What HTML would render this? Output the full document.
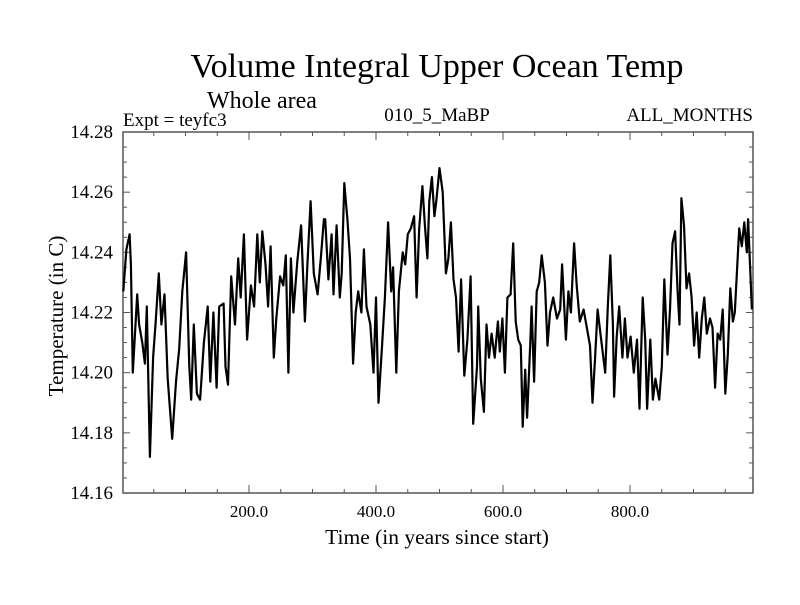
<!DOCTYPE html>
<html><head><meta charset="utf-8"><style>
body{margin:0;background:#fff}
svg text{font-family:"Liberation Serif",serif;fill:#000}
</style></head><body>
<svg id="chart" width="800" height="600" viewBox="0 0 800 600">
<text x="437" y="77" font-size="34" text-anchor="middle">Volume Integral Upper Ocean Temp</text>
<text x="207" y="108" font-size="24">Whole area</text>
<text x="123" y="126" font-size="19">Expt = teyfc3</text>
<text x="437" y="121" font-size="19" text-anchor="middle">010_5_MaBP</text>
<text x="753" y="121" font-size="19" text-anchor="end">ALL_MONTHS</text>
<text x="437" y="544" font-size="21.5" text-anchor="middle">Time (in years since start)</text>
<text x="0" y="0" font-size="21" text-anchor="middle" transform="translate(63,316) rotate(-90)">Temperature (in C)</text>
<g id="axes"></g>
</svg>
<script>
const years=[2,7,12,14,17,24,27,32,36,39,44,49,53,58,62,67,72,79,85,90,95,101,106,109,113,118,123,129,135,139,144,149,153,160,163,167,172,178,183,187,192,197,203,208,213,217,221,226,230,234,239,243,249,254,258,262,266,270,276,282,288,292,297,302,308,313,318,
320,325,330,333,338,343,346,350,355,359,364,368,372,377,381,385,391,396,400,404,409,414,419,424,427,432,436,442,446,450,455,460,464,468,473,477,481,484,488,492,495,500,505,510,514,518,522,526,530,534,539,544,549,553,559,561,565,570,574,578,582,587,592,595,599,603,607,612,616,620,624,628,631,635,638,643,645,649,653,
657,661,666,670,674,679,685,690,693,699,703,707,712,716,721,727,732,737,741,745,749,754,761,765,769,773,775,779,783,788,792,796,801,806,811,815,820,824,827,832,836,840,846,850,854,859,863,867,871,875,878,881,885,889,893,897,901,905,909,913,917,921,926,930,934,938,942,946,950,954,958,962,965,968,972,976,980,984,986,989,992];
const temps=[14.227,14.241,14.246,14.236,14.200,14.226,14.216,14.210,14.203,14.222,14.172,14.205,14.217,14.233,14.216,14.226,14.198,14.178,14.197,14.208,14.227,14.240,14.202,14.191,14.216,14.193,14.191,14.210,14.222,14.197,14.220,14.195,14.222,14.223,14.202,14.196,14.232,14.216,14.238,14.225,14.246,14.211,14.229,14.222,14.246,14.230,14.247,14.236,14.222,14.242,14.205,14.218,14.232,14.229,14.239,14.200,14.238,14.220,14.237,14.249,14.217,14.236,14.257,14.233,14.226,14.238,14.251,
14.251,14.231,14.246,14.226,14.249,14.225,14.233,14.263,14.251,14.238,14.203,14.220,14.227,14.220,14.241,14.222,14.216,14.200,14.225,14.190,14.207,14.225,14.250,14.227,14.235,14.200,14.227,14.240,14.236,14.246,14.248,14.252,14.225,14.248,14.262,14.249,14.238,14.257,14.265,14.252,14.257,14.268,14.260,14.233,14.238,14.250,14.231,14.225,14.207,14.231,14.199,14.211,14.232,14.183,14.202,14.222,14.198,14.187,14.216,14.205,14.213,14.205,14.217,14.207,14.218,14.200,14.225,14.226,14.243,14.217,14.211,14.209,14.182,14.201,14.185,14.210,14.222,14.197,14.227,
14.230,14.239,14.230,14.209,14.220,14.225,14.218,14.221,14.236,14.211,14.227,14.220,14.243,14.229,14.217,14.221,14.215,14.209,14.190,14.205,14.221,14.212,14.200,14.222,14.239,14.216,14.192,14.212,14.222,14.205,14.218,14.205,14.212,14.200,14.211,14.188,14.225,14.211,14.188,14.211,14.191,14.198,14.191,14.202,14.231,14.206,14.221,14.243,14.247,14.227,14.216,14.258,14.249,14.228,14.233,14.225,14.209,14.220,14.205,14.218,14.225,14.213,14.218,14.215,14.195,14.213,14.211,14.221,14.193,14.206,14.228,14.217,14.220,14.232,14.248,14.242,14.250,14.240,14.251,14.236,14.221];
const yTicks=[14.16,14.18,14.20,14.22,14.24,14.26,14.28];
const xTicks=[200,400,600,800];
const xTickLabels=["200.0","400.0","600.0","800.0"];
const L=123,R=753,T=132,B=493;
const sx=v=>122+v*0.635;
const sy=v=>B-(v-14.16)/0.12*(B-T);
const NS="http://www.w3.org/2000/svg";
const g=document.getElementById('axes');
function mk(tag,attrs,parent){const e=document.createElementNS(NS,tag);for(const k in attrs)e.setAttribute(k,attrs[k]);(parent||g).appendChild(e);return e;}
const fr=mk('rect',{x:L,y:T,width:R-L,height:B-T,fill:'none',stroke:'#555','stroke-width':1.5});


for(let v=14.16;v<=14.2801;v+=0.005){
 const y=sy(v);const major=Math.abs((v-14.16)/0.02-Math.round((v-14.16)/0.02))<1e-6;
 const len=major?7:4;
 const t1=mk('line',{x1:L,y1:y,x2:L+len,y2:y,stroke:'#555','stroke-width':1});
 
 
 const t2=mk('line',{x1:R,y1:y,x2:R-len,y2:y,stroke:'#555','stroke-width':1});
 
 
}
yTicks.forEach(v=>{
 const t=mk('text',{x:113,y:sy(v)+6,'font-size':19,'text-anchor':'end'});t.textContent=v.toFixed(2);
 
 
});
for(let v=50;v<=950;v+=50){
 const x=sx(v);const len=(v%200===0)?8:4;
 const a=mk('line',{x1:x,y1:B,x2:x,y2:B-len,stroke:'#555','stroke-width':1});
 
 
 const b=mk('line',{x1:x,y1:T,x2:x,y2:T+len,stroke:'#555','stroke-width':1});
 
 
}
xTicks.forEach((v,i)=>{
 const t=mk('text',{x:sx(v),y:517,'font-size':17,'text-anchor':'middle'});t.textContent=xTickLabels[i];
 
 
});
const pts=years.map((yr,i)=>sx(yr).toFixed(1)+','+sy(temps[i]).toFixed(1)).join(' ');
const line=mk('polyline',{points:pts,fill:'none',stroke:'#000','stroke-width':2.2,'stroke-linejoin':'round'});


</script>
</body></html>
